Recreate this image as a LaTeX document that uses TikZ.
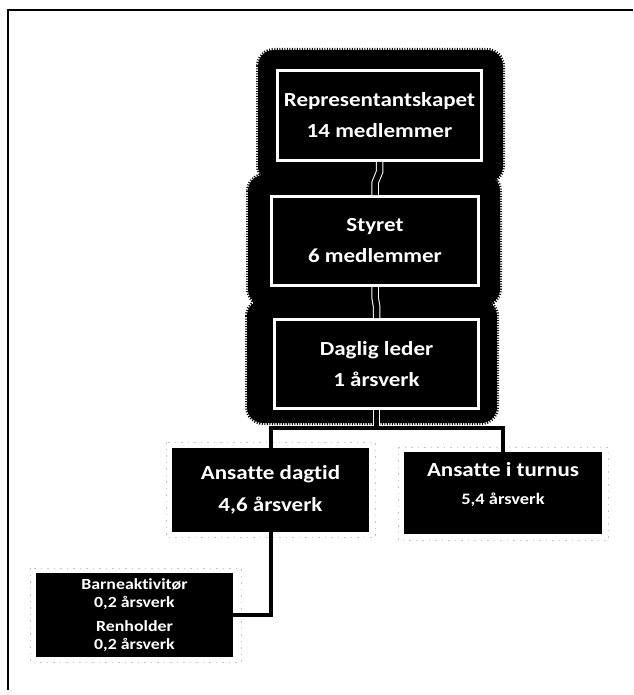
\documentclass[tikz,border=0pt]{standalone}
\usepackage{fontspec}
\setmainfont{Carlito}[FakeStretch=1.15,Ligatures=CommonOff]
\usetikzlibrary{calc}
\begin{document}
\begin{tikzpicture}[x=1pt,y=-1pt,
  topbox/.style={draw=white, line width=3pt, fill=black, text=white, align=center,
    inner sep=0pt, font=\bfseries\fontsize{20}{31}\selectfont},
  lowbox/.style={fill=black, text=white, align=center, inner sep=0pt},
  glow/.style={fill=black, rounded corners=16pt},
  glowedge/.style={draw=black, line width=4pt, rounded corners=16pt, dash pattern=on 1pt off 1.5pt},
  link/.style={draw=white, double=black, line width=1pt, double distance=5.5pt},
  bar/.style={draw=black, line width=4pt},
  ghost/.style={draw=gray!45, line width=0.6pt, dash pattern=on 1.5pt off 5pt},
  frame/.style={draw=black, line width=1.4pt}]
\useasboundingbox (0,0) rectangle (633,695);
% frame
\draw[frame] (8,690) -- (8,10) -- (633,10);
% ragged glow behind the top boxes
\path[glowedge] (258,50) rectangle (503,182);
\path[glowedge] (248,175) rectangle (500,305);
\path[glowedge] (247,300) rectangle (497,423);
\path[glow] (258,50) rectangle (503,182);
\path[glow] (248,175) rectangle (500,305);
\path[glow] (247,300) rectangle (497,423);
% faint scan outlines
\draw[ghost] (166,442) rectangle (375,537);
\draw[ghost] (398,447) rectangle (608,540);
\draw[ghost] (30,568) rectangle (241,662);
% boxes
\node[topbox, minimum width=204pt, minimum height=90pt] (b1) at (379.5,115.5)
  {Representantskapet\\14 medlemmer};
\node[topbox, minimum width=207pt, minimum height=89pt] (b2) at (375,241)
  {Styret\\6 medlemmer};
\node[topbox, minimum width=204pt, minimum height=89pt] (b3) at (376.5,364)
  {Daglig leder\\1 årsverk};
\node[lowbox, minimum width=197pt, minimum height=84pt,
  font=\bfseries\fontsize{20}{32}\selectfont] (dag) at (270.5,490)
  {Ansatte dagtid\\4,6 årsverk};
\node[lowbox, minimum width=198pt, minimum height=82pt] (tur) at (503,493) {};
\node[text=white, inner sep=0pt, font=\bfseries\fontsize{20}{24}\selectfont] (tur1) at (503,470) {Ansatte i turnus};
\node[text=white, inner sep=0pt, font=\bfseries\fontsize{16}{19}\selectfont] (tur2) at (503,500) {5,4 årsverk};
\node[lowbox, minimum width=197pt, minimum height=84pt,
  font=\bfseries\fontsize{15.5}{18.5}\selectfont] (small) at (134.5,615)
  {Barneaktivitør\\0,2 årsverk\\[5pt]Renholder\\0,2 årsverk};
% connectors
\draw[link] (b1.south) -- ++(0,10) -- ($(b2.north)+(0,-12)$) -- (b2.north);
\draw[link] (b2.south) -- ++(0,10) -- ($(b3.north)+(0,-12)$) -- (b3.north);
\draw[link] (b3.south) -- ++(0,18) coordinate (j);
\draw[bar] (dag.north) |- (j) -| (tur.north);
\draw[bar] (dag.south) |- (small.east);
\end{tikzpicture}
\end{document}
